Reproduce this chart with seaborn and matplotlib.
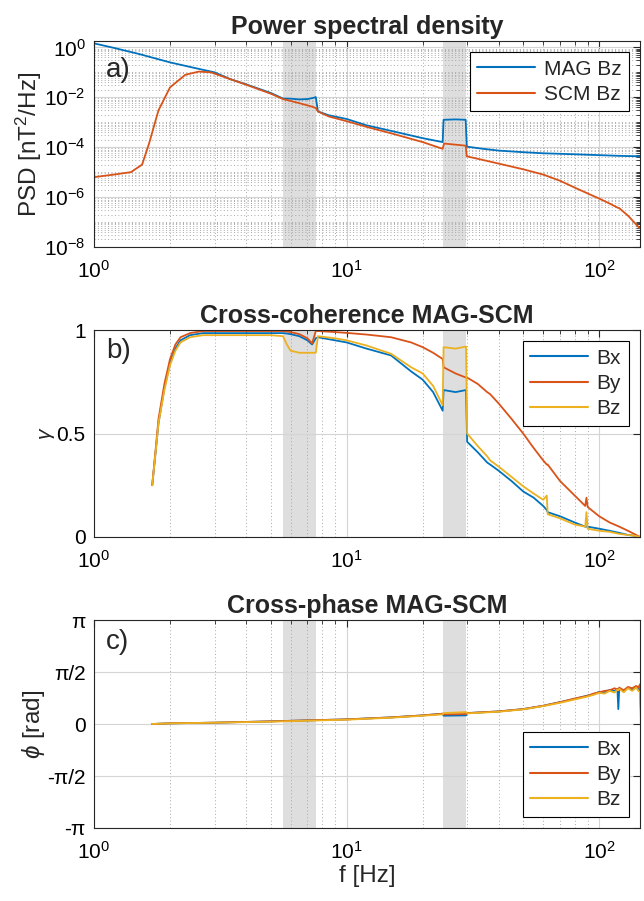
import numpy as np
import pandas as pd
import matplotlib
matplotlib.use("Agg")
import matplotlib.pyplot as plt
import matplotlib.ticker as mticker
import seaborn as sns

sns.set_style("white")
plt.rcParams['font.family'] = ['Liberation Sans', 'DejaVu Sans']
plt.rcParams['mathtext.fontset'] = 'custom'
plt.rcParams['mathtext.rm'] = 'Liberation Sans'
plt.rcParams['mathtext.it'] = 'Liberation Sans:italic'

BLUE = '#0072BD'
RED = '#D95319'
YELLOW = '#EDB120'

# shaded frequency bands [Hz]
bands = [(5.6, 7.55), (24.1, 29.8)]

# ---- a) power spectral density
f_mag = [1.0, 1.2, 1.5, 2.0, 2.5, 3.0, 3.45, 4.0, 5.0, 5.6, 6.0, 6.5, 7.0, 7.4, 7.55, 7.7,
         8.5, 10, 12, 15, 20, 24, 24.2, 27, 29.6, 29.9, 35, 40, 50, 60, 80, 100, 120, 145]
psd_mag = [1.45, 0.95, 0.55, 0.25, 0.15, 0.1, 0.054, 0.033, 0.015, 0.0089, 0.0088, 0.0082,
           0.0085, 0.0095, 0.0102, 0.0027, 0.0019, 0.00135, 7.5e-4, 4.5e-4, 2.3e-4, 1.6e-4,
           1.25e-3, 1.3e-3, 1.25e-3, 1.05e-4, 8.5e-5, 7.3e-5, 6.3e-5, 5.7e-5, 5.2e-5, 4.8e-5,
           4.5e-5, 4.3e-5]
f_scm = [1.0, 1.2, 1.4, 1.55, 1.65, 1.8, 2.0, 2.3, 2.6, 2.9, 3.45, 4.0, 5.0, 5.6, 6.5, 7.3,
         7.55, 7.7, 8.5, 10, 12, 15, 20, 24, 24.3, 29.6, 29.9, 35, 40, 50, 60, 70, 80, 90,
         100, 110, 118, 120, 130, 140, 145]
psd_scm = [6.3e-6, 8e-6, 1e-5, 2e-5, 1.35e-4, 3e-3, 0.025, 0.08, 0.107, 0.1, 0.054, 0.032,
           0.014, 0.0085, 0.0058, 0.0042, 0.0037, 0.0027, 0.0017, 0.0011, 6.5e-4, 3.6e-4,
           1.6e-4, 8.6e-5, 1.4e-4, 1.15e-4, 4.3e-5, 3.0e-5, 2.2e-5, 1.3e-5, 8e-6, 4.5e-6,
           2.4e-6, 1.4e-6, 8.7e-7, 5.5e-7, 3.8e-7, 3.6e-7, 1.8e-7, 8e-8, 5.5e-8]

# ---- b) cross-coherence
f_coh = [1.7, 1.75, 1.8, 1.9, 2.0, 2.1, 2.2, 2.4, 2.7, 3, 4, 5, 5.6, 5.8, 6.0, 6.5, 7.0, 7.3,
         7.55, 7.7, 9, 10, 12, 15, 18, 20, 22, 24, 24.2, 27, 29.7, 30, 33, 36, 37, 40, 45,
         50, 55, 60, 62, 62.5, 70, 80, 88, 89, 90, 100, 110, 120, 130, 140, 145]
coh_bx = [0.25, 0.40, 0.55, 0.72, 0.84, 0.91, 0.95, 0.975, 0.985, 0.985, 0.985, 0.985, 0.985,
          0.983, 0.98, 0.97, 0.95, 0.93, 0.96, 0.965, 0.95, 0.94, 0.91, 0.877, 0.80, 0.76,
          0.70, 0.61, 0.71, 0.70, 0.71, 0.46, 0.41, 0.36, 0.35, 0.32, 0.27, 0.22, 0.19, 0.15,
          0.13, 0.12, 0.10, 0.07, 0.05, 0.05, 0.05, 0.04, 0.03, 0.02, 0.01, 0.005, 0.0]
coh_by = [0.25, 0.41, 0.57, 0.74, 0.86, 0.93, 0.965, 0.985, 0.995, 0.995, 0.995, 0.995, 0.995,
          0.993, 0.99, 0.98, 0.96, 0.935, 0.995, 0.995, 0.99, 0.986, 0.978, 0.965, 0.94, 0.917,
          0.89, 0.86, 0.82, 0.79, 0.77, 0.77, 0.74, 0.70, 0.69, 0.645, 0.57, 0.50, 0.43, 0.37,
          0.35, 0.35, 0.27, 0.20, 0.15, 0.19, 0.145, 0.10, 0.07, 0.05, 0.03, 0.01, 0.0]
coh_bz = [0.25, 0.40, 0.55, 0.71, 0.83, 0.90, 0.94, 0.965, 0.975, 0.975, 0.975, 0.975, 0.97,
          0.93, 0.90, 0.89, 0.89, 0.89, 0.89, 0.97, 0.96, 0.95, 0.925, 0.885, 0.82, 0.79, 0.73,
          0.636, 0.917, 0.91, 0.92, 0.50, 0.44, 0.39, 0.37, 0.34, 0.29, 0.245, 0.21, 0.18,
          0.20, 0.11, 0.09, 0.06, 0.05, 0.12, 0.04, 0.03, 0.025, 0.015, 0.01, 0.005, 0.0]

# ---- c) cross-phase [rad]
f_ph = [1.7, 2, 3, 5, 7, 10, 15, 20, 24, 24.2, 29.7, 30, 40, 50, 60, 70, 80, 90, 95, 100,
        105, 110, 115, 118, 119, 120, 125, 130, 135, 140, 143, 145, 146, 147]
ph_bx = [0.0, 0.02, 0.04, 0.08, 0.11, 0.14, 0.2, 0.26, 0.31, 0.25, 0.26, 0.33, 0.38, 0.45,
         0.55, 0.66, 0.76, 0.86, 0.9, 0.97, 0.95, 1.03, 1.0, 1.06, 0.45, 1.07, 1.0, 1.1, 1.05,
         1.12, 1.08, 1.0, 0.5, -0.2]
ph_by = [0.0, 0.02, 0.04, 0.08, 0.11, 0.14, 0.2, 0.26, 0.31, 0.29, 0.30, 0.33, 0.38, 0.45,
         0.55, 0.66, 0.77, 0.85, 0.92, 0.96, 1.0, 1.02, 1.08, 1.04, 1.05, 1.1, 1.02, 1.12,
         1.08, 1.15, 1.1, 1.2, 0.8, -0.1]
ph_bz = [0.0, 0.02, 0.04, 0.07, 0.10, 0.13, 0.19, 0.25, 0.29, 0.33, 0.36, 0.32, 0.37, 0.44,
         0.54, 0.64, 0.74, 0.83, 0.88, 0.94, 0.92, 1.0, 0.95, 1.04, 1.02, 1.06, 0.96, 1.08,
         1.0, 1.1, 1.0, 0.95, 0.2, -0.88]

W, H = 644, 901
fig = plt.figure(figsize=(W / 100, H / 100), dpi=100)


def add_ax(top, bottom, left=94, right=640):
    return fig.add_axes([left / W, 1 - bottom / H, (right - left) / W, (bottom - top) / H])


ax_a = add_ax(41, 247)
ax_b = add_ax(330, 537)
ax_c = add_ax(620, 828)

TICK_FS = 15
LABEL_FS = 17.5
TITLE_FS = 18
AXCOL = '#262626'

for ax in (ax_a, ax_b, ax_c):
    for lo, hi in bands:
        ax.axvspan(lo, hi, color='#bfbfbf', alpha=0.5, lw=0, zorder=0.5)

sns.lineplot(x=f_mag, y=psd_mag, ax=ax_a, color=BLUE, lw=1.3, label='MAG Bz')
sns.lineplot(x=f_scm, y=psd_scm, ax=ax_a, color=RED, lw=1.3, label='SCM Bz')

for f, vals, ax in ((f_coh, (coh_bx, coh_by, coh_bz), ax_b), (f_ph, (ph_bx, ph_by, ph_bz), ax_c)):
    for v, col, name in zip(vals, (BLUE, RED, YELLOW), ('Bx', 'By', 'Bz')):
        sns.lineplot(x=f, y=v, ax=ax, color=col, lw=1.3, label=name)

for ax in (ax_a, ax_b, ax_c):
    ax.set_xscale('log')
    ax.set_xlim(1, 145)
    ax.xaxis.set_major_locator(mticker.FixedLocator([1, 10, 100]))
    ax.xaxis.set_major_formatter(mticker.LogFormatterMathtext())
    ax.xaxis.set_minor_locator(mticker.LogLocator(base=10, subs=np.arange(2, 10), numticks=20))
    ax.xaxis.set_minor_formatter(mticker.NullFormatter())
    ax.tick_params(which='both', direction='in', top=True, right=True, colors=AXCOL,
                   labelcolor='black', labelsize=TICK_FS)
    ax.tick_params(which='major', length=5, width=0.8)
    ax.tick_params(which='minor', length=3, width=0.6)
    ax.tick_params(axis='x', which='major', pad=9)
    ax.tick_params(axis='y', which='major', pad=6)
    ax.grid(which='major', color='#d4d4d4', linestyle='-', linewidth=0.8)
    ax.grid(which='minor', axis='x', color='#a8a8a8', linestyle=(0, (1, 2.5)), linewidth=0.7)
    ax.set_axisbelow(True)
    for s in ax.spines.values():
        s.set_color(AXCOL)
        s.set_linewidth(0.8)
    ax.set_xlabel('')

# panel a
ax_a.set_yscale('log')
ax_a.set_ylim(1e-8, 1.8)
ax_a.yaxis.set_major_locator(mticker.FixedLocator([1e-8, 1e-6, 1e-4, 1e-2, 1]))
ax_a.yaxis.set_major_formatter(mticker.LogFormatterMathtext())
ax_a.yaxis.set_minor_locator(mticker.LogLocator(base=10, subs=np.arange(1, 10), numticks=100))
ax_a.yaxis.set_minor_formatter(mticker.NullFormatter())
ax_a.grid(which='minor', axis='y', color='#a8a8a8', linestyle=(0, (1, 2.5)), linewidth=0.7)
ax_a.set_ylabel('PSD [nT$^2$/Hz]', fontsize=LABEL_FS, labelpad=0)
ax_a.set_title('Power spectral density', fontsize=TITLE_FS, fontweight='bold', pad=5)

# panel b
ax_b.set_ylim(0, 1)
ax_b.set_yticks([0, 0.5, 1])
ax_b.set_yticklabels(['0', '0.5', '1'])
ax_b.set_ylabel(r'$\gamma$', fontsize=15, labelpad=0)
ax_b.set_title('Cross-coherence MAG-SCM', fontsize=TITLE_FS, fontweight='bold', pad=5)

# panel c
ax_c.set_ylim(-np.pi, np.pi)
ax_c.set_yticks([-np.pi, -np.pi / 2, 0, np.pi / 2, np.pi])
ax_c.set_yticklabels(['-π', '-π/2', '0', 'π/2', 'π'])
ax_c.set_ylabel(r'$\phi$ [rad]', fontsize=LABEL_FS, labelpad=0)
ax_c.set_xlabel('f [Hz]', fontsize=LABEL_FS, labelpad=2)
ax_c.set_title('Cross-phase MAG-SCM', fontsize=TITLE_FS, fontweight='bold', pad=5)

for ax, letter, yy in ((ax_a, 'a)', 0.86), (ax_b, 'b)', 0.90), (ax_c, 'c)', 0.895)):
    ax.text(0.022, yy, letter, transform=ax.transAxes, fontsize=20, va='center', ha='left')

leg_kw = dict(frameon=True, fancybox=False, edgecolor='black', framealpha=1, fontsize=15,
              handlelength=2.8, borderpad=0.35, labelspacing=0.3, handletextpad=0.4,
              borderaxespad=0.55)
for ax, loc in ((ax_a, 'upper right'), (ax_b, 'upper right'), (ax_c, 'lower right')):
    leg = ax.legend(loc=loc, **leg_kw)
    leg.get_frame().set_linewidth(0.8)
    leg.set_zorder(10)
    for h in leg.get_lines():
        h.set_linewidth(1.5)

fig.savefig('out.png', dpi=100)
